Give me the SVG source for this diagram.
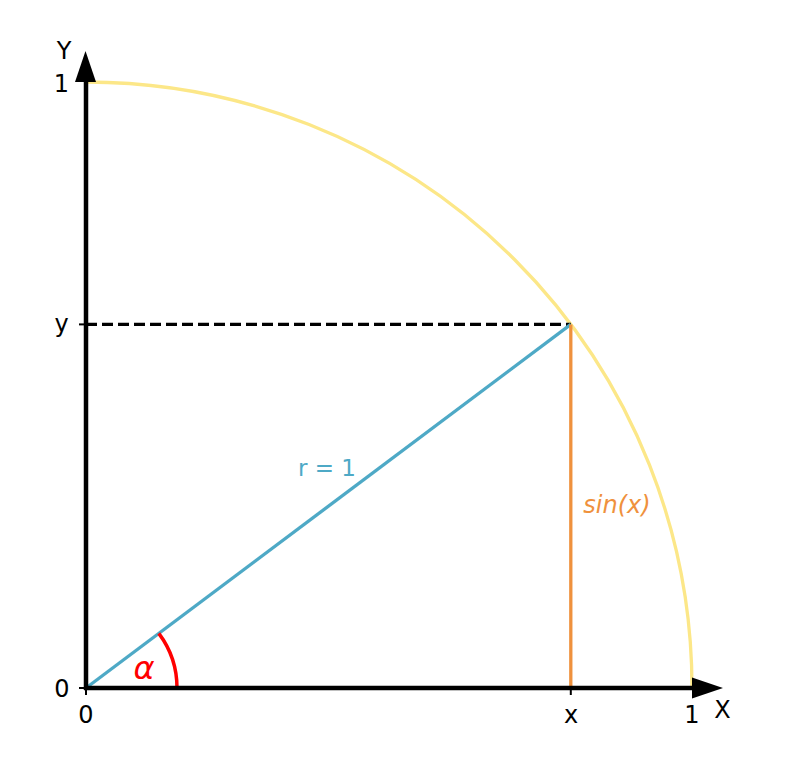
<svg xmlns="http://www.w3.org/2000/svg" width="800" height="762" viewBox="0 0 800 762">
<style>
.lbl{font-family:"DejaVu Sans",sans-serif;font-size:24px;fill:#000;text-anchor:middle}
.ax{stroke:#000;stroke-width:4.5;fill:none}
.tk{stroke:#000;stroke-width:2;fill:none}
</style>
<rect width="800" height="762" fill="#fff"/>
<g id="unit-arc"><path d="M692,688 A606,606 0 0 0 86,82" fill="none" stroke="#fce788" stroke-width="3.3"/></g>
<g id="connectors">
<line id="dash-y" x1="86" y1="324.4" x2="570.8" y2="324.4" stroke="#000" stroke-width="3.3" stroke-dasharray="11,5"/>
<line id="radius" x1="86" y1="688" x2="570.8" y2="324.4" stroke="#4ea9c6" stroke-width="3.3"/>
<line id="sine" x1="570.8" y1="324.4" x2="570.8" y2="688" stroke="#ef913d" stroke-width="3.3"/>
<path id="angle-arc" d="M177,688 A91,91 0 0 0 158.8,633.4" fill="none" stroke="#ff0000" stroke-width="3.5"/>
</g>
<g id="axes">
<line class="tk" x1="86" y1="688" x2="86" y2="695"/>
<line class="tk" x1="570.8" y1="688" x2="570.8" y2="695"/>
<line class="tk" x1="79" y1="688" x2="86" y2="688"/>
<line class="tk" x1="79" y1="324.4" x2="86" y2="324.4"/>
<line class="ax" x1="86" y1="690" x2="86" y2="80"/>
<line class="ax" x1="84" y1="688" x2="694" y2="688"/>
<polygon points="75,82 96,82 85.5,51" fill="#000"/>
<polygon points="692,677.5 692,698.5 723,688" fill="#000"/>
</g>
<g id="labels">
<text class="lbl" x="64" y="59">Y</text>
<text class="lbl" x="61.5" y="92">1</text>
<text class="lbl" x="61.5" y="332">y</text>
<text class="lbl" x="62" y="697">0</text>
<text class="lbl" x="86" y="723">0</text>
<text class="lbl" x="571" y="723">x</text>
<text class="lbl" x="692" y="723">1</text>
<text class="lbl" x="722.5" y="718">X</text>
<text x="327" y="476" font-family="DejaVu Sans,sans-serif" font-size="23" fill="#4ea9c6" text-anchor="middle">r = 1</text>
<text x="617" y="513" font-family="DejaVu Sans,sans-serif" font-size="24" font-style="italic" fill="#ef913d" text-anchor="middle">sin(x)</text>
<text x="144" y="679" font-family="DejaVu Sans,sans-serif" font-size="32" font-style="italic" fill="#ff0000" text-anchor="middle">α</text>
</g>
</svg>
